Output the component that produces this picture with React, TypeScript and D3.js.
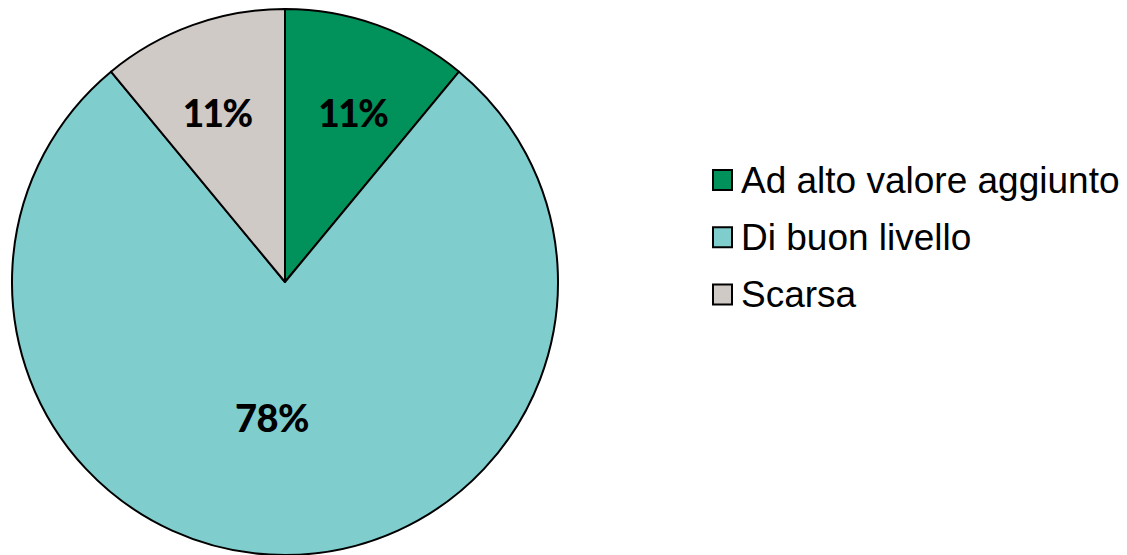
import React from "react";
import * as d3 from "d3";

const categories = ["Ad alto valore aggiunto", "Di buon livello", "Scarsa"];
const values = [11, 78, 11];
const colors = ["#01915B", "#80CDCE", "#D0CAC7"];

export default function App() {
  const width = 1127;
  const height = 555;
  const cx = 285;
  const cy = 282;
  const r = 273;

  const pie = d3.pie<number>().sort(null).value((d) => d)(values);
  const arc = d3.arc<d3.PieArcDatum<number>>().innerRadius(0).outerRadius(r);
  const total = d3.sum(values);

  return (
    <svg
      width={width}
      height={height}
      style={{ position: "absolute", left: 0, top: 0 }}
    >
      <g transform={`translate(${cx},${cy})`}>
        {pie.map((p, i) => (
          <path
            key={i}
            d={arc(p) || ""}
            fill={colors[i]}
            stroke="#000"
            strokeWidth={2}
            strokeLinejoin="round"
          />
        ))}
        {pie.map((p, i) => {
          const mid = (p.startAngle + p.endAngle) / 2;
          const small = p.value / total < 0.5;
          const lr = small ? r * 0.655 : r * 0.5;
          const x = Math.sin(mid) * lr * (small ? 1.12 : 1) + (small ? 0 : -13);
          const y = -Math.cos(mid) * lr;
          return (
            <text
              key={i}
              x={x}
              y={y}
              dy="0.36em"
              textAnchor="middle"
              fontFamily="Lato, 'Noto Sans', sans-serif"
              fontWeight={900}
              fontSize={small ? 37 : 38}
              letterSpacing={small ? -1.5 : -0.5}
              fill="#000"
            >
              {`${Math.round((p.value / total) * 100)}%`}
            </text>
          );
        })}
      </g>
      <g>
        {categories.map((c, i) => {
          const y = 180 + i * 57.25;
          return (
            <g key={c}>
              <rect
                x={713}
                y={y - 10}
                width={19}
                height={20}
                fill={colors[i]}
                stroke="#000"
                strokeWidth={2}
              />
              <text
                x={741}
                y={y + 12.5}
                fontFamily="'Liberation Sans', Arial, sans-serif"
                fontSize={37}
                fill="#000"
              >
                {c}
              </text>
            </g>
          );
        })}
      </g>
    </svg>
  );
}
